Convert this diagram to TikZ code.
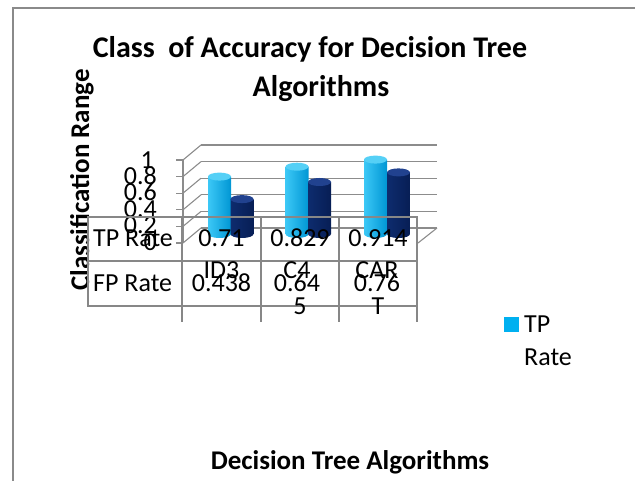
\documentclass[tikz,border=0pt]{standalone}
\usepackage{fontspec}
\setmainfont{Carlito}
\definecolor{gridgray}{HTML}{8C8C8C}
\definecolor{tblgray}{HTML}{878787}
\definecolor{framegray}{HTML}{8A8A8A}
\definecolor{lbA}{HTML}{3CC8F6}
\definecolor{lbB}{HTML}{12B4EE}
\definecolor{lbC}{HTML}{0096D4}
\definecolor{lbT}{HTML}{55D0F6}
\definecolor{dbA}{HTML}{0E2C6E}
\definecolor{dbB}{HTML}{17398A}
\definecolor{dbC}{HTML}{071E55}
\definecolor{dbT}{HTML}{21428F}
\definecolor{legcyan}{HTML}{00B0F0}
\tikzset{
  gridln/.style={draw=gridgray, line width=1.1pt},
  tblln/.style={draw=tblgray, line width=1.6pt},
  lbl/.style={font=\fontsize{26}{31}\selectfont, inner sep=0pt, anchor=base},
  ttl/.style={font=\fontsize{30}{36}\selectfont\bfseries, inner sep=0pt, anchor=base},
  axttl/.style={font=\fontsize{27}{32}\selectfont\bfseries, inner sep=0pt, anchor=base},
}
\newcommand{\cylbar}[6]{% cx, top, left, middle, right, topcolor
  \path[left color=#3, middle color=#4, right color=#5]
    (#1-11.5,#2) -- (#1-11.5,234) arc[start angle=180,end angle=0,x radius=11.5,y radius=4] -- (#1+11.5,#2) -- cycle;
  \path[fill=#6] (#1,#2) ellipse[x radius=11.5, y radius=4];
}
\begin{document}
\begin{tikzpicture}[x=1pt,y=-1pt]
\useasboundingbox (0,0) rectangle (635,481);
% frame
\draw[framegray, line width=1.6pt] (13,481) -- (13,8) -- (635,8);
% titles
\node[ttl] (t1) at (310,58) {Class\ \ of Accuracy for Decision Tree};
\node[ttl] (t2) at (321,97) {Algorithms};
\node[axttl, rotate=90] (yt) at (89,180) {Classification Range};
\node[axttl] (xt) at (350,469) {Decision Tree Algorithms};
% walls
\foreach \k in {0,...,5}{
  \pgfmathsetmacro{\yb}{228-16.6*\k}
  \draw[gridln] (201,\yb) -- (437,\yb);
  \draw[gridln] (183,\yb+15) -- (201,\yb);
  \draw[gridln] (176,\yb+15) -- (183,\yb+15);
}
\draw[gridln] (183,160) -- (183,243);
\draw[gridln] (418,243) -- (437,228);
% y labels
\node[lbl, anchor=base east] (y0) at (157,251) {0};
\node[lbl, anchor=base east] (y2) at (157,234) {0.2};
\node[lbl, anchor=base east] (y4) at (157,218) {0.4};
\node[lbl, anchor=base east] (y6) at (157,201) {0.6};
\node[lbl, anchor=base east] (y8) at (157,185) {0.8};
\node[lbl, anchor=base east] (y10) at (154,169) {1};
% cylinders
\cylbar{219.5}{176.6}{lbA}{lbB}{lbC}{lbT}
\cylbar{242}{199.1}{dbA}{dbB}{dbC}{dbT}
\cylbar{297}{166.7}{lbA}{lbB}{lbC}{lbT}
\cylbar{319.5}{182}{dbA}{dbB}{dbC}{dbT}
\cylbar{375.5}{159.6}{lbA}{lbB}{lbC}{lbT}
\cylbar{398.5}{172.4}{dbA}{dbB}{dbC}{dbT}
% data table
\draw[tblln] (88,217) rectangle (417,306);
\draw[tblln] (88,261) -- (417,261);
\foreach \cx in {182,261,339,417}{
  \draw[tblln] (\cx,217) -- (\cx,322);
}
\node[lbl, anchor=base west] (tp) at (93,247) {TP Rate};
\node[lbl, anchor=base west] (fp) at (93,291) {FP Rate};
\node[lbl] (v1) at (221.5,247) {0.71};
\node[lbl] (v2) at (300,247) {0.829};
\node[lbl] (v3) at (378,247) {0.914};
\node[lbl] (c1) at (221.5,279) {ID3};
\node[lbl] (c2) at (297,279) {C4};
\node[lbl] (c3) at (377,279) {CAR};
\node[lbl] (f1) at (221.5,291) {0.438};
\node[lbl] (f2) at (297,291) {0.64};
\node[lbl] (f3) at (377,291) {0.76};
\node[lbl] (c2b) at (300,315) {5};
\node[lbl] (c3b) at (378,315) {T};
% legend
\fill[legcyan] (504,317) rectangle (519,332);
\node[lbl, anchor=base west] (lg1) at (524,333) {TP};
\node[lbl, anchor=base west] (lg2) at (524,365) {Rate};
\end{tikzpicture}
\end{document}
